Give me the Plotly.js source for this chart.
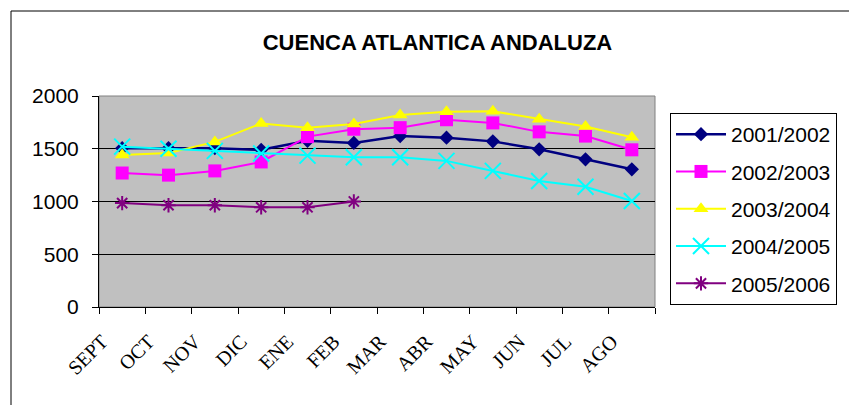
<!DOCTYPE html>
<html>
<head>
<meta charset="utf-8">
<script src="https://cdn.plot.ly/plotly-3.0.1.min.js"></script>
<style>
html,body{margin:0;padding:0;background:#fff;}
#chart{width:849px;height:405px;}
</style>
</head>
<body>
<div id="chart"></div>
<script>
const months = ["SEPT","OCT","NOV","DIC","ENE","FEB","MAR","ABR","MAY","JUN","JUL","AGO"];
const s2001_2002 = [1505,1505,1505,1490,1575,1555,1620,1605,1570,1495,1400,1305];
const s2002_2003 = [1270,1250,1290,1375,1615,1685,1700,1775,1745,1660,1620,1490];
const s2003_2004 = [1440,1460,1565,1740,1700,1735,1820,1850,1855,1780,1710,1610];
const s2004_2005 = [1520,1500,1480,1455,1435,1420,1420,1385,1290,1195,1140,1005];
const s2005_2006 = [985,965,965,945,945,1000];
const seriesNames = ["2001/2002","2002/2003","2003/2004","2004/2005","2005/2006"];

const W = 849, H = 405;
const L = 99, R = 655, T = 96, B = 307;
const px = v => (v - L) / (R - L);
const py = v => (B - v) / (B - T);

function tr(name, y, color, symbol, size, lw, mline, grp) {
  return {
    type: "scatter", mode: "lines+markers", name: name,
    x: months.slice(0, y.length), y: y,
    legendgroup: grp,
    line: {color: color, width: lw},
    marker: {color: color, symbol: symbol, size: size,
             line: {color: color, width: mline}}
  };
}

const data = [
  tr(seriesNames[0], s2001_2002, "#000080", "diamond", 11, 2.5, 0, "a"),
  tr(seriesNames[1], s2002_2003, "#FF00FF", "square", 13, 2, 0, "b"),
  tr(seriesNames[2], s2003_2004, "#FFFF00", "triangle-up", 13, 2, 0, "c"),
  tr(seriesNames[3], s2004_2005, "#00FFFF", "x-thin-open", 16, 2, 2, "d"),
  tr(seriesNames[4], s2005_2006, "#800080", "asterisk-open", 12, 2, 2, "e")
];

const layout = {
  width: W, height: H,
  margin: {l: L, r: W - R, t: T, b: H - B, pad: 0},
  paper_bgcolor: "#ffffff",
  plot_bgcolor: "#C0C0C0",
  showlegend: true,
  title: {
    text: "<b>CUENCA ATLANTICA ANDALUZA</b>",
    font: {family: "Liberation Sans, Arial, sans-serif", size: 22, color: "#000"},
    xref: "container", x: 437.5 / W, xanchor: "center",
    yref: "container", y: 1 - 42 / H, yanchor: "middle"
  },
  xaxis: {
    type: "category", categoryorder: "array", categoryarray: months,
    range: [-0.5, 11.5], fixedrange: true,
    tickson: "boundaries", ticks: "outside", ticklen: 6, tickwidth: 1, tickcolor: "#000",
    showline: true, linecolor: "#000", linewidth: 1,
    showgrid: false, zeroline: false,
    tickangle: -45,
    ticklabelstandoff: 14,
    ticklabelshift: -20,
    tickfont: {family: "Liberation Serif, Times New Roman, serif", size: 20, color: "#000"}
  },
  yaxis: {
    range: [0, 2000], dtick: 500, tick0: 0, fixedrange: true,
    ticks: "outside", ticklen: 6, tickwidth: 1, tickcolor: "#000",
    showline: true, linecolor: "#000", linewidth: 1,
    showgrid: true, gridcolor: "#000", gridwidth: 1,
    zeroline: false,
    ticklabelstandoff: 9,
    tickfont: {family: "Liberation Sans, Arial, sans-serif", size: 21, color: "#000"}
  },
  legend: {
    x: px(670), xanchor: "left", xref: "paper",
    y: py(113), yanchor: "top", yref: "paper",
    bgcolor: "#ffffff", bordercolor: "#000", borderwidth: 1,
    tracegroupgap: 7, itemwidth: 50,
    font: {family: "Liberation Sans, Arial, sans-serif", size: 21, color: "#000"}
  },
  shapes: [
    {type: "rect", xref: "paper", yref: "paper", x0: 0, x1: 1, y0: 0, y1: 1,
     line: {color: "#808080", width: 1}, layer: "below"},
    {type: "rect", xref: "paper", yref: "paper",
     x0: px(11), x1: px(851), y0: py(410), y1: py(11),
     line: {color: "#000", width: 1}, fillcolor: "rgba(0,0,0,0)", layer: "above"}
  ]
};

Plotly.newPlot("chart", data, layout, {displayModeBar: false, staticPlot: true});
</script>
</body>
</html>
